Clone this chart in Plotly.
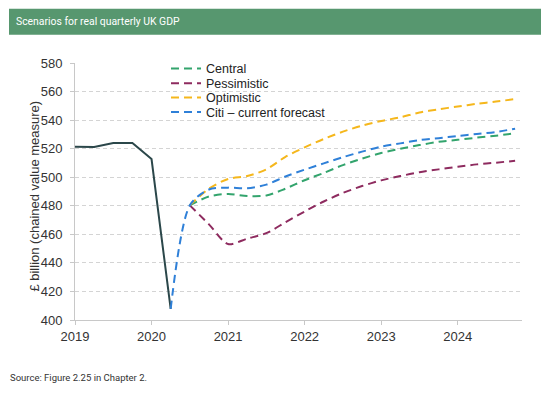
import plotly.graph_objects as go

# ---------------- data ----------------
actual_quarters = ["2019 Q1", "2019 Q2", "2019 Q3", "2019 Q4", "2020 Q1", "2020 Q2"]
actual_gdp = [521.4, 521.2, 523.9, 523.9, 512.7, 407.8]

citi_quarters = ["2020 Q2", "2020 Q3", "2020 Q4",
                 "2021 Q1", "2021 Q2", "2021 Q3", "2021 Q4",
                 "2022 Q1", "2022 Q2", "2022 Q3", "2022 Q4",
                 "2023 Q1", "2023 Q2", "2023 Q3", "2023 Q4",
                 "2024 Q1", "2024 Q2", "2024 Q3", "2024 Q4"]
citi_gdp = [407.8, 480.3, 491.4, 492.7, 492.3, 494.8, 500.5, 505.3, 509.7,
            514.0, 517.9, 521.4, 523.7, 526.0, 527.3, 528.9, 530.3, 531.7, 534.0]

scenario_quarters = citi_quarters[1:]
central_gdp = [480.3, 486.5, 488.3, 486.8, 487.2, 492.0, 497.9, 503.0, 508.5,
               513.0, 517.0, 520.0, 522.5, 524.8, 526.2, 527.7, 529.1, 530.8]
pessimistic_gdp = [480.3, 467.0, 453.2, 457.0, 460.8, 468.5, 476.0, 483.0, 489.0,
                   493.8, 497.8, 500.8, 503.5, 505.5, 507.3, 509.0, 510.2, 511.5]
optimistic_gdp = [480.3, 492.0, 498.8, 500.8, 505.5, 514.3, 520.9, 526.8, 531.9,
                  536.1, 539.4, 542.0, 545.3, 547.6, 549.5, 551.4, 553.0, 554.7]

year_ticks = [2019, 2020, 2021, 2022, 2023, 2024]
y_ticks = [400, 420, 440, 460, 480, 500, 520, 540, 560, 580]

title_text = "Scenarios for real quarterly UK GDP"
source_text = "Source: Figure 2.25 in Chapter 2."
y_title = "£ billion (chained value measure)"


def qpos(label):
    y, q = label.split(" Q")
    return int(y) + (int(q) - 1) / 4


# ---------------- layout geometry ----------------
W, H = 550, 393
L, R, T, B = 75, 522, 63.3, 320.5


def px_x(px):
    return (px - L) / (R - L)


def px_y(py):
    return (B - py) / (B - T)


FONT = "Liberation Sans, Arial, sans-serif"
UIFONT = "Roboto, Inter, sans-serif"
C_GREEN = "#33a46d"
C_PURPLE = "#8e2b5f"
C_YELLOW = "#f5b71c"
C_BLUE = "#2f80d8"
C_ACTUAL = "#2b474a"
DASH = "8px,5px"

fig = go.Figure()

fig.add_trace(go.Scatter(
    x=[qpos(q) for q in actual_quarters], y=actual_gdp, mode="lines",
    line=dict(color=C_ACTUAL, width=2), showlegend=False, name="Actual"))

series = [
    ("Central", central_gdp, scenario_quarters, C_GREEN, "legend"),
    ("Pessimistic", pessimistic_gdp, scenario_quarters, C_PURPLE, "legend2"),
    ("Optimistic", optimistic_gdp, scenario_quarters, C_YELLOW, "legend3"),
    ("Citi – current forecast", citi_gdp, citi_quarters, C_BLUE, "legend4"),
]
for name, vals, qs, col, lg in series:
    fig.add_trace(go.Scatter(
        x=[qpos(q) for q in qs], y=vals, mode="lines", name=name,
        line=dict(color=col, width=2, dash=DASH, shape="spline", smoothing=0.8),
        legend=lg))

legend_rows = [69.3, 84.0, 98.3, 112.6]
legend_common = dict(xref="paper", yref="paper", xanchor="left",
                     yanchor="middle", bgcolor="rgba(0,0,0,0)",
                     font=dict(family=FONT, size=12.5, color="#222"))
legend_layout = {}
for i, row in enumerate(legend_rows):
    key = "legend" if i == 0 else f"legend{i + 1}"
    legend_layout[key] = dict(x=px_x(166), y=px_y(row), **legend_common)

fig.update_layout(
    width=W, height=H,
    margin=dict(l=L, r=W - R, t=T, b=H - B, autoexpand=False),
    paper_bgcolor="white", plot_bgcolor="white",
    font=dict(family=FONT, size=13, color="#333"),
    xaxis=dict(range=[2019, 2024.84], tickvals=year_ticks,
               ticktext=[str(y) for y in year_ticks], tickangle=0, automargin=False,
               showgrid=False, zeroline=False, showline=True,
               linecolor="#c8c8c8", linewidth=1, ticks="outside", ticklen=4,
               tickcolor="#c8c8c8", tickfont=dict(size=13, color="#333")),
    yaxis=dict(range=[400, 580], tickvals=y_ticks, showgrid=True, automargin=False,
               gridcolor="#d4d4d4", griddash="4px,3px", gridwidth=1,
               zeroline=False, showline=True, linecolor="#c8c8c8", linewidth=1,
               ticks="outside", ticklen=4, tickcolor="#c8c8c8", ticklabelstandoff=5,
               tickfont=dict(size=13, color="#333")),
    **legend_layout,
)

# y-axis title
fig.add_annotation(text=y_title, xref="paper", yref="paper",
                   x=px_x(35), y=px_y(197), xanchor="center", yanchor="middle",
                   textangle=-90, showarrow=False,
                   font=dict(family=FONT, size=13, color="#333"))

# header band
fig.add_shape(type="rect", xref="paper", yref="paper",
              x0=px_x(9), x1=px_x(541), y0=px_y(35), y1=px_y(9),
              fillcolor="#57976f", line=dict(width=0), layer="below")
fig.add_annotation(text=title_text, xref="paper", yref="paper",
                   x=px_x(13.5), y=px_y(22), xanchor="left", yanchor="middle",
                   showarrow=False, font=dict(family=UIFONT, size=10.4, color="white"))
fig.add_annotation(text=source_text, xref="paper", yref="paper",
                   x=px_x(8), y=px_y(378.5), xanchor="left", yanchor="middle",
                   showarrow=False, font=dict(family=UIFONT, size=9.5, color="#333"))

fig.write_html("out.html", config={"displayModeBar": False},
               post_script="document.body.style.margin='0';")
